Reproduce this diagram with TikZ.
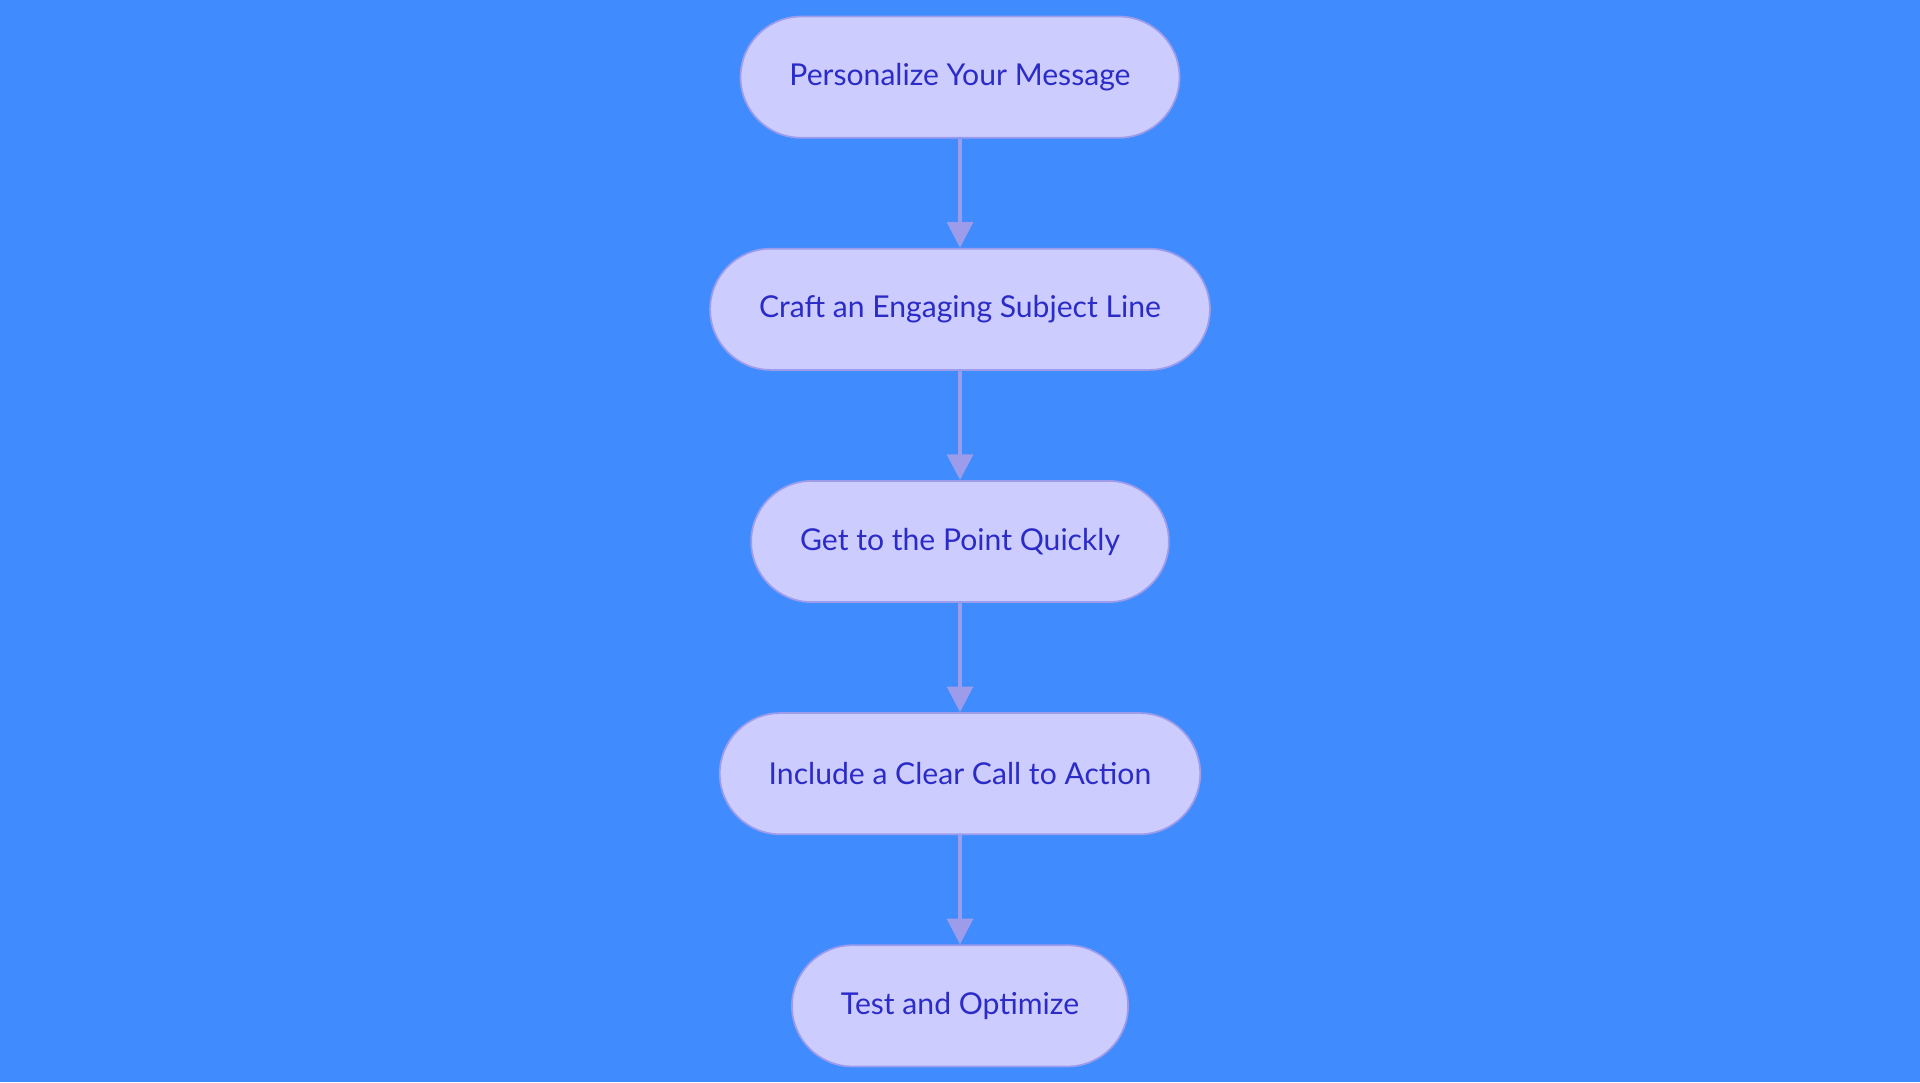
\documentclass[tikz,border=0pt]{standalone}
\usepackage{fontspec}
\setmainfont{Lato}
\usepackage{tikz}
\usetikzlibrary{positioning,arrows.meta}
\definecolor{bgblue}{HTML}{408CFF}
\definecolor{boxfill}{HTML}{CCCCFF}
\definecolor{boxline}{HTML}{9C9CEB}
\definecolor{boxtext}{HTML}{2B2BC8}

\begin{document}
\begin{tikzpicture}[x=0.02cm,y=0.02cm,
	stage/.style={draw=boxline, fill=boxfill, text=boxtext, line width=0.8pt, rounded corners=0.99cm,
		minimum height=1.98cm, inner xsep=0.8cm, font=\fontsize{14}{16}\selectfont},
	link/.style={draw=boxline, line width=1.8pt, -{Triangle[length=0.42cm,width=0.42cm]}}]
	\fill[bgblue] (0,0) rectangle (1568,884);
	\node[stage] (pers) at (784,821) {Personalize Your Message};
	\node[stage, below=1.785cm of pers] (subj) {Craft an Engaging Subject Line};
	\node[stage, below=1.785cm of subj] (point) {Get to the Point Quickly};
	\node[stage, below=1.785cm of point] (call) {Include a Clear Call to Action};
	\node[stage, below=1.785cm of call] (test) {Test and Optimize};
	\draw[link] (pers) -- (subj);
	\draw[link] (subj) -- (point);
	\draw[link] (point) -- (call);
	\draw[link] (call) -- (test);
\end{tikzpicture}
\end{document}
